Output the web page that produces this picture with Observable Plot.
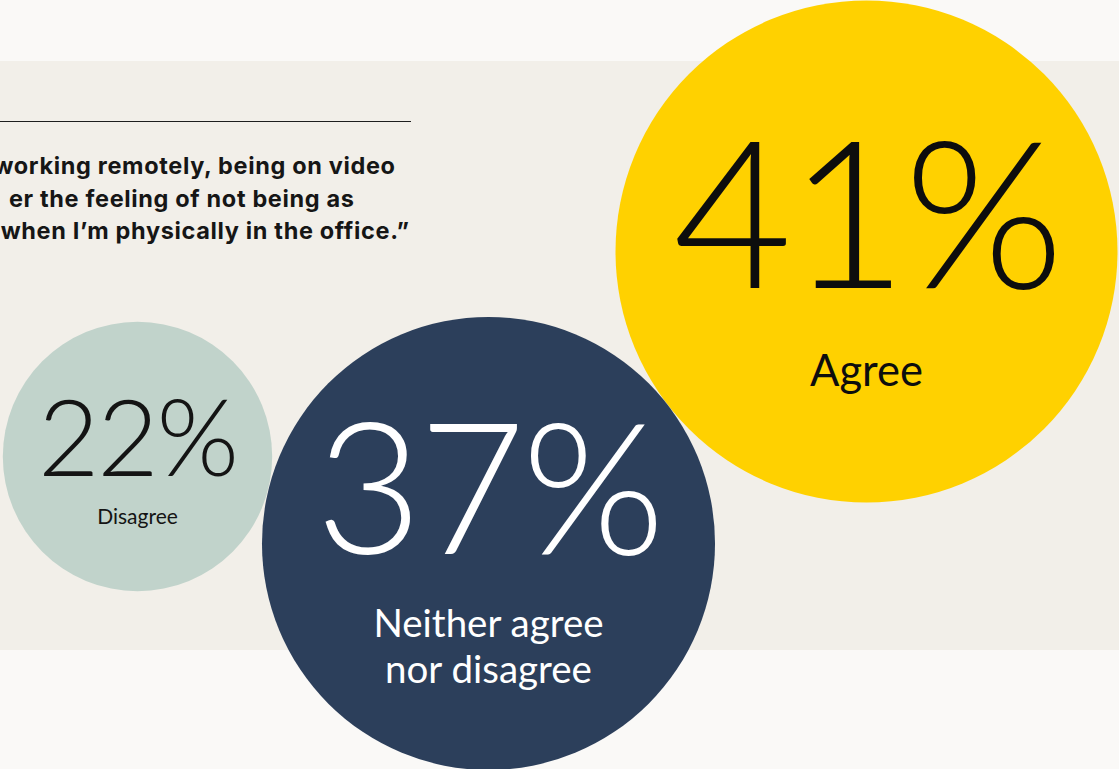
<!DOCTYPE html>
<html>
<head>
<meta charset="utf-8">
<script src="https://cdn.jsdelivr.net/npm/d3@7"></script>
<script src="https://cdn.jsdelivr.net/npm/@observablehq/plot@0.6"></script>
<style>
  html, body { margin: 0; padding: 0; background: #faf9f7; }
  #wrap { position: relative; width: 1119px; height: 769px; overflow: hidden; }
  #chart svg { display: block; }
  #head { position: absolute; left: 0; top: 0; width: 1119px; height: 300px; pointer-events: none;
          font-family: Inter, Lato, sans-serif; font-weight: 700; font-size: 23.5px; color: #161616; }
  #head .rule { position: absolute; left: 0; top: 121px; width: 411px; border-top: 1.3px solid #1e1e1e; }
  #head .line { position: absolute; white-space: nowrap; line-height: 1; }
</style>
</head>
<body>
<div id="wrap">
  <div id="chart"></div>
  <div id="head"><div class="rule"></div></div>
</div>
<script>
// ---- data ----
const categories = ["Disagree", "Neither agree nor disagree", "Agree"];
const values = [22, 37, 41];
const labelTexts = ["Disagree", "Neither agree\nnor disagree", "Agree"];
const headlineLines = [
  "working remotely, being on video",
  "er the feeling of not being as",
  "when I\u2019m physically in the office.\u201d"
];

// ---- styles / layout (not data) ----
const fills = ["#c1d3cb", "#2c3f5b", "#ffd100"];
const inks = ["#141414", "#ffffff", "#0d0d0d"];
const layout = [
  {cx: 137, cy: 456, pctTop: -56, pctSize: 106, lblTop: 50, lblSize: 21},
  {cx: 488, cy: 543, pctTop: -120, pctSize: 184, lblTop: 62, lblSize: 38.5},
  {cx: 866, cy: 251, pctTop: -110, pctSize: 206, lblTop: 98, lblSize: 43.5}
];
const headlinePos = [{right: 395, base: 172}, {right: 354, base: 205}, {right: 409, base: 237}];
const headlineFitLeft = 0; // the last line starts at the page's left edge

const rows = categories.map((c, i) => ({
  category: c, value: values[i], label: labelTexts[i],
  fill: fills[i], ink: inks[i], ...layout[i]
}));

const chart = Plot.plot({
  width: 1119,
  height: 769,
  margin: 0,
  x: {type: "identity", axis: null},
  y: {type: "identity", axis: null},
  r: {type: "linear", domain: [0, 41], range: [0, 251]},
  color: {type: "identity"},
  style: {
    background: "linear-gradient(to bottom, #faf9f7 0px, #faf9f7 61px, #f2efe9 61px, #f2efe9 650px, #faf9f7 650px)",
    fontFamily: "Lato, 'Open Sans', sans-serif"
  },
  marks: [
    Plot.dot(rows, {x: "cx", y: "cy", r: "value", fill: "fill", stroke: null, fillOpacity: 1}),
    Plot.text(rows, {
      x: "cx", y: d => d.cy + d.pctTop,
      text: d => d.value + "%",
      fontSize: d => d.pctSize,
      fill: "ink", fontWeight: 300, lineAnchor: "top", textAnchor: "middle"
    }),
    Plot.text(rows, {
      x: "cx", y: d => d.cy + d.lblTop,
      text: "label",
      fontSize: d => d.lblSize,
      lineHeight: 1.17,
      fill: "ink", fontWeight: 400, lineAnchor: "top", textAnchor: "middle"
    })
  ]
});
d3.select(chart).selectAll("text").filter(function() { return /%$/.test(this.textContent); })
  .style("letter-spacing", "-0.02em");
document.getElementById("chart").appendChild(chart);

// headline (partially cropped at the left edge, as in the reference)
const head = document.getElementById("head");
const els = headlineLines.map(t => {
  const el = document.createElement("div");
  el.className = "line";
  el.textContent = t;
  head.appendChild(el);
  return el;
});
const last = els[els.length - 1];
const pLast = headlinePos[headlinePos.length - 1];
const w0 = last.getBoundingClientRect().width;
const ls = (pLast.right - headlineFitLeft - w0) / last.textContent.length;
els.forEach((el, i) => {
  el.style.letterSpacing = ls + "px";
  const p = headlinePos[i];
  el.style.left = (p.right - el.getBoundingClientRect().width + ls) + "px";
  el.style.top = (p.base - 18) + "px";
});
</script>
</body>
</html>
